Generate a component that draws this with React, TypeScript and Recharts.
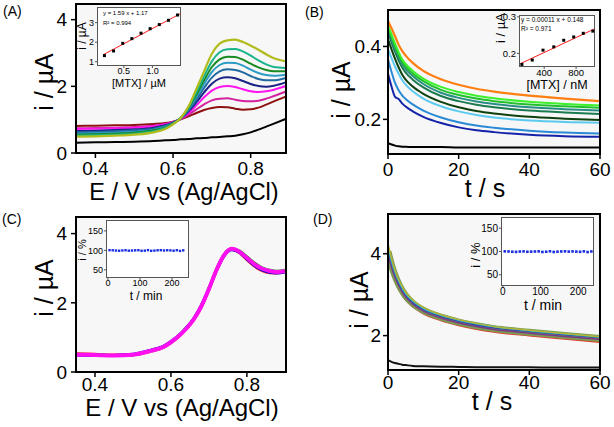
import React from 'react';
import { LineChart, Line, XAxis, YAxis, ComposedChart, Scatter } from 'recharts';

const FONT = "'Liberation Sans', Arial, Helvetica, sans-serif";

// ---------- Panel A (DPV, concentration series) ----------
const xA = [0.35, 0.40, 0.45, 0.50, 0.55, 0.58, 0.60, 0.62, 0.64, 0.66, 0.68, 0.70, 0.72, 0.74, 0.76, 0.78, 0.80, 0.82, 0.84, 0.86, 0.89];
const aBlack = [0.31, 0.32, 0.33, 0.34, 0.36, 0.38, 0.39, 0.41, 0.42, 0.44, 0.45, 0.47, 0.48, 0.50, 0.52, 0.56, 0.62, 0.70, 0.79, 0.88, 1.02];
const aDarkRed = [0.81, 0.82, 0.83, 0.84, 0.87, 0.90, 0.94, 1.01, 1.10, 1.20, 1.29, 1.35, 1.38, 1.37, 1.33, 1.30, 1.31, 1.36, 1.45, 1.55, 1.69];
const aPink = [0.74, 0.75, 0.76, 0.78, 0.82, 0.87, 0.93, 1.02, 1.15, 1.31, 1.46, 1.58, 1.63, 1.64, 1.60, 1.56, 1.55, 1.57, 1.63, 1.71, 1.84];
const aMagenta = [0.72, 0.73, 0.74, 0.76, 0.80, 0.86, 0.92, 1.03, 1.20, 1.43, 1.67, 1.87, 1.98, 2.01, 1.98, 1.91, 1.85, 1.83, 1.85, 1.90, 2.01];
const aNavy = [0.66, 0.67, 0.69, 0.71, 0.76, 0.83, 0.91, 1.04, 1.25, 1.52, 1.82, 2.08, 2.23, 2.27, 2.24, 2.16, 2.07, 2.01, 1.99, 2.02, 2.12];
const aSteel = [0.62, 0.63, 0.65, 0.68, 0.73, 0.81, 0.90, 1.05, 1.29, 1.60, 1.95, 2.26, 2.45, 2.51, 2.49, 2.42, 2.31, 2.22, 2.18, 2.18, 2.25];
const aSky = [0.58, 0.59, 0.61, 0.64, 0.70, 0.79, 0.89, 1.05, 1.32, 1.68, 2.07, 2.43, 2.64, 2.71, 2.70, 2.62, 2.50, 2.40, 2.34, 2.32, 2.35];
const aGreen = [0.55, 0.56, 0.58, 0.61, 0.68, 0.77, 0.88, 1.05, 1.35, 1.75, 2.18, 2.58, 2.81, 2.89, 2.88, 2.80, 2.68, 2.57, 2.49, 2.45, 2.45];
const aTeal = [0.52, 0.53, 0.55, 0.58, 0.65, 0.75, 0.87, 1.05, 1.38, 1.82, 2.30, 2.75, 3.02, 3.11, 3.12, 3.05, 2.92, 2.78, 2.66, 2.58, 2.55];
const aYellow = [0.49, 0.50, 0.52, 0.55, 0.62, 0.72, 0.86, 1.05, 1.40, 1.92, 2.45, 2.98, 3.28, 3.38, 3.40, 3.33, 3.22, 3.10, 2.96, 2.84, 2.75];

const insetAx = [0.16, 0.32, 0.48, 0.64, 0.80, 0.96, 1.12, 1.28, 1.44];
const insetAy = [1.31, 1.55, 1.94, 2.18, 2.46, 2.69, 2.90, 3.12, 3.39];
const fitAx = [0.14, 1.49];
const fitAy = [1.36, 3.46];

// ---------- Panel B (chronoamperometry, concentration series) ----------
const tB = [0, 1, 2, 3, 4, 5, 7, 10, 15, 20, 25, 30, 40, 50, 60];
const bBlack = [0.135, 0.131, 0.128, 0.126, 0.125, 0.125, 0.124, 0.124, 0.124, 0.123, 0.123, 0.123, 0.123, 0.123, 0.123];
const bDarkBlue = [0.325, 0.290, 0.262, 0.256, 0.244, 0.235, 0.222, 0.207, 0.190, 0.178, 0.170, 0.165, 0.158, 0.154, 0.152];
const bBlue = [0.365, 0.330, 0.300, 0.280, 0.266, 0.256, 0.241, 0.224, 0.205, 0.192, 0.183, 0.177, 0.169, 0.164, 0.161];
const bCyan = [0.392, 0.368, 0.345, 0.325, 0.308, 0.295, 0.277, 0.257, 0.236, 0.222, 0.212, 0.205, 0.197, 0.193, 0.191];
const bDarkGreen = [0.420, 0.392, 0.366, 0.343, 0.323, 0.309, 0.290, 0.270, 0.248, 0.233, 0.223, 0.216, 0.207, 0.202, 0.198];
const bSeaGreen = [0.440, 0.411, 0.385, 0.362, 0.342, 0.328, 0.309, 0.288, 0.264, 0.250, 0.240, 0.233, 0.224, 0.219, 0.215];
const bGreen = [0.448, 0.420, 0.394, 0.372, 0.352, 0.338, 0.319, 0.297, 0.273, 0.259, 0.249, 0.242, 0.233, 0.228, 0.224];
const bTeal = [0.452, 0.426, 0.400, 0.378, 0.358, 0.345, 0.326, 0.305, 0.281, 0.267, 0.257, 0.250, 0.241, 0.236, 0.232];
const bLime = [0.458, 0.433, 0.408, 0.385, 0.365, 0.352, 0.333, 0.312, 0.289, 0.275, 0.265, 0.258, 0.248, 0.242, 0.238];
const bOrange = [0.470, 0.450, 0.428, 0.405, 0.388, 0.375, 0.355, 0.333, 0.310, 0.295, 0.284, 0.276, 0.265, 0.257, 0.250];

const insetBx = [120, 250, 385, 520, 645, 770, 890, 1010];
const insetBy = [0.170, 0.182, 0.209, 0.218, 0.236, 0.245, 0.255, 0.261];
const fitBx = [100, 1030];
const fitBy = [0.172, 0.267];

// ---------- Panel C (DPV stability, repeated scans) ----------
const xC = [0.35, 0.40, 0.45, 0.50, 0.55, 0.58, 0.60, 0.62, 0.64, 0.66, 0.68, 0.70, 0.72, 0.74, 0.76, 0.78, 0.80, 0.82, 0.84, 0.86, 0.88, 0.90];
const cRed = [0.53, 0.51, 0.49, 0.50, 0.61, 0.71, 0.85, 1.02, 1.24, 1.51, 1.89, 2.39, 2.94, 3.37, 3.55, 3.45, 3.25, 3.06, 2.93, 2.87, 2.86, 2.90];
const cGreen = [0.51, 0.50, 0.48, 0.50, 0.62, 0.72, 0.86, 1.03, 1.26, 1.53, 1.91, 2.41, 2.96, 3.39, 3.57, 3.50, 3.33, 3.15, 3.01, 2.94, 2.91, 2.94];
const cBlack = [0.50, 0.49, 0.48, 0.50, 0.63, 0.73, 0.87, 1.04, 1.26, 1.53, 1.91, 2.40, 2.95, 3.38, 3.55, 3.47, 3.29, 3.10, 2.97, 2.90, 2.88, 2.91];
const cBlue = [0.49, 0.48, 0.48, 0.51, 0.64, 0.74, 0.88, 1.05, 1.27, 1.54, 1.92, 2.41, 2.94, 3.36, 3.53, 3.46, 3.27, 3.08, 2.95, 2.88, 2.86, 2.89];
const cMagenta = [0.50, 0.49, 0.48, 0.50, 0.62, 0.72, 0.86, 1.03, 1.25, 1.52, 1.90, 2.40, 2.95, 3.38, 3.56, 3.48, 3.30, 3.12, 2.99, 2.92, 2.89, 2.92];

const stabT = [5, 15, 25, 35, 45, 55, 65, 75, 85, 95, 105, 115, 125, 135, 145, 155, 165, 175, 185, 195, 205, 215, 225, 235];
const stabC = [100.5, 100.2, 99.6, 99.0, 99.8, 100.3, 99.2, 99.6, 100.1, 100.4, 98.9, 99.3, 100.6, 98.8, 99.4, 100.2, 100.5, 99.7, 100.3, 99.9, 99.1, 100.4, 98.6, 100.0];

// ---------- Panel D (chronoamperometry stability) ----------
const tD = [0, 1, 2, 3, 4, 5, 7, 10, 15, 20, 25, 30, 40, 50, 60];
const dBlack = [1.40, 1.36, 1.33, 1.31, 1.29, 1.28, 1.26, 1.25, 1.24, 1.235, 1.23, 1.23, 1.225, 1.22, 1.22];
const dRed = [3.85, 3.58, 3.35, 3.16, 3.01, 2.89, 2.72, 2.55, 2.38, 2.26, 2.17, 2.10, 2.01, 1.93, 1.85];
const dOlive = [4.05, 3.72, 3.46, 3.26, 3.10, 2.97, 2.79, 2.62, 2.45, 2.33, 2.24, 2.17, 2.08, 2.00, 1.93];
const dPurple = [3.98, 3.67, 3.42, 3.23, 3.07, 2.94, 2.77, 2.60, 2.43, 2.31, 2.22, 2.15, 2.06, 1.98, 1.91];
const dBlue = [4.10, 3.77, 3.50, 3.29, 3.13, 2.99, 2.81, 2.64, 2.47, 2.35, 2.26, 2.19, 2.10, 2.02, 1.95];
const dCyan = [4.18, 3.83, 3.55, 3.34, 3.17, 3.03, 2.85, 2.67, 2.50, 2.38, 2.29, 2.22, 2.12, 2.04, 1.97];
const dYellow = [4.25, 3.88, 3.59, 3.37, 3.20, 3.06, 2.87, 2.69, 2.51, 2.39, 2.30, 2.22, 2.13, 2.05, 1.97];

const stabD = [100.3, 100.1, 99.5, 99.2, 99.9, 100.2, 99.4, 99.7, 100.0, 100.3, 99.0, 99.5, 100.5, 99.0, 99.6, 100.1, 100.4, 99.8, 100.2, 99.8, 99.3, 100.3, 98.8, 100.1];

// ---------- helpers ----------
type LineSpec = { key: string; color: string; width: number };

function buildRows(xs: number[], cols: Record<string, number[]>) {
  return xs.map((x, i) => {
    const r: any = { x };
    Object.keys(cols).forEach((k) => {
      r[k] = cols[k][i];
    });
    return r;
  });
}
function pairs(xs: number[], ys: number[]) {
  return xs.map((x, i) => ({ x, y: ys[i] }));
}

const rowsA = buildRows(xA, { aBlack, aDarkRed, aPink, aMagenta, aNavy, aSteel, aSky, aGreen, aTeal, aYellow });
const linesA: LineSpec[] = [
  { key: 'aBlack', color: '#000000', width: 2 },
  { key: 'aDarkRed', color: '#8e1111', width: 2 },
  { key: 'aPink', color: '#d3239f', width: 2 },
  { key: 'aMagenta', color: '#ff14f0', width: 2 },
  { key: 'aNavy', color: '#1b2486', width: 2 },
  { key: 'aSteel', color: '#206aa2', width: 2 },
  { key: 'aSky', color: '#2c9cc4', width: 2 },
  { key: 'aGreen', color: '#178a22', width: 2 },
  { key: 'aTeal', color: '#19b48a', width: 2 },
  { key: 'aYellow', color: '#b2bc1c', width: 2.2 },
];

const rowsB = buildRows(tB, { bBlack, bDarkBlue, bBlue, bCyan, bDarkGreen, bSeaGreen, bGreen, bTeal, bLime, bOrange });
const linesB: LineSpec[] = [
  { key: 'bBlack', color: '#000000', width: 2 },
  { key: 'bDarkBlue', color: '#1423a8', width: 2 },
  { key: 'bBlue', color: '#2a8ad6', width: 2 },
  { key: 'bCyan', color: '#5ccaf0', width: 2 },
  { key: 'bDarkGreen', color: '#0e400e', width: 2 },
  { key: 'bSeaGreen', color: '#1c7a50', width: 2 },
  { key: 'bGreen', color: '#2a8c84', width: 2 },
  { key: 'bTeal', color: '#1fc02a', width: 2 },
  { key: 'bLime', color: '#3cf02c', width: 2 },
  { key: 'bOrange', color: '#ff7e12', width: 2.2 },
];

const rowsC = buildRows(xC, { cRed, cGreen, cBlack, cBlue, cMagenta });
const linesC: LineSpec[] = [
  { key: 'cRed', color: '#ff2020', width: 3 },
  { key: 'cGreen', color: '#20b020', width: 3 },
  { key: 'cBlack', color: '#000000', width: 3 },
  { key: 'cBlue', color: '#1010e0', width: 3 },
  { key: 'cMagenta', color: '#ff10f0', width: 4 },
];

const rowsD = buildRows(tD, { dBlack, dRed, dOlive, dPurple, dBlue, dCyan, dYellow });
const linesD: LineSpec[] = [
  { key: 'dBlack', color: '#111111', width: 2 },
  { key: 'dRed', color: '#e8322a', width: 2.5 },
  { key: 'dOlive', color: '#7c9a52', width: 7 },
  { key: 'dPurple', color: '#7b3a86', width: 1.5 },
  { key: 'dBlue', color: '#3342b0', width: 1.5 },
  { key: 'dCyan', color: '#22bcd0', width: 1.8 },
  { key: 'dYellow', color: '#b8b232', width: 1.5 },
];

const tickStyle = { fontSize: 19, fill: '#000', fontFamily: FONT };

function MainPanel(p: any) {
  const { left, top, w, h, x0, y0, x1, y1, data, lines, xDomain, yDomain, xTicks, yTicks, xTickMargin, yTickMargin, xFmt, yFmt } = p;
  return (
    <div style={{ position: 'absolute', left, top, width: w, height: h }}>
      <div style={{ position: 'absolute', left: x0, top: y0, width: x1 - x0, height: y1 - y0, background: '#f7f7f7' }} />
      <div style={{ position: 'absolute', left: 0, top: 0 }}>
        <LineChart width={w} height={h} data={data} margin={{ top: y0, right: w - x1, bottom: 0, left: 0 }}>
          <XAxis
            type="number"
            dataKey="x"
            domain={xDomain}
            ticks={xTicks}
            allowDataOverflow
            interval={0}
            height={h - y1}
            tickSize={5}
            tickMargin={xTickMargin}
            tickFormatter={xFmt}
            axisLine={false}
            tickLine={{ stroke: '#000', strokeWidth: 1.5 }}
            tick={tickStyle}
          />
          <YAxis
            type="number"
            domain={yDomain}
            ticks={yTicks}
            allowDataOverflow
            interval={0}
            width={x0}
            tickSize={5}
            tickMargin={yTickMargin}
            tickFormatter={yFmt}
            axisLine={false}
            tickLine={{ stroke: '#000', strokeWidth: 1.5 }}
            tick={tickStyle}
          />
          {lines.map((l: LineSpec) => (
            <Line key={l.key} dataKey={l.key} type="monotone" stroke={l.color} strokeWidth={l.width} dot={false} isAnimationActive={false} />
          ))}
        </LineChart>
      </div>
      <div
        style={{
          position: 'absolute',
          left: x0 - 1,
          top: y0 - 1,
          width: x1 - x0 + 2,
          height: y1 - y0 + 2,
          border: '2px solid #000',
          boxSizing: 'border-box',
        }}
      />
    </div>
  );
}

function Inset(p: any) {
  const { bx0, by0, bx1, by1, xDomain, yDomain, xTicks, yTicks, pts, fit, fs, ptColor, ptSize, xFmt, yFmt } = p;
  const yw = 26;
  const xh = 14;
  const rp = 4;
  const tp = 6;
  const shape = (s: any) => (
    <rect x={s.cx - ptSize / 2} y={s.cy - ptSize / 2} width={ptSize} height={ptSize} fill={ptColor} />
  );
  const tk = { fontSize: fs, fill: '#000', fontFamily: FONT };
  return (
    <>
      <div
        style={{
          position: 'absolute',
          left: bx0,
          top: by0,
          width: bx1 - bx0,
          height: by1 - by0,
          background: '#fff',
          border: '1px solid #555',
          boxSizing: 'border-box',
        }}
      />
      <div style={{ position: 'absolute', left: bx0 - yw, top: by0 - tp }}>
        <ComposedChart width={bx1 - bx0 + yw + rp} height={by1 - by0 + xh + tp} margin={{ top: tp, right: rp, left: 0, bottom: 0 }}>
          <XAxis
            type="number"
            dataKey="x"
            domain={xDomain}
            ticks={xTicks}
            allowDataOverflow
            interval={0}
            height={xh}
            tickSize={2}
            tickMargin={0}
            tickFormatter={xFmt}
            axisLine={false}
            tickLine={{ stroke: '#555' }}
            tick={tk}
          />
          <YAxis
            type="number"
            dataKey="y"
            domain={yDomain}
            ticks={yTicks}
            allowDataOverflow
            interval={0}
            width={yw}
            tickSize={2}
            tickMargin={1}
            tickFormatter={yFmt}
            axisLine={false}
            tickLine={{ stroke: '#555' }}
            tick={tk}
          />
          {fit ? (
            <Line data={fit} dataKey="y" type="linear" stroke="#ff1a1a" strokeWidth={1} dot={false} isAnimationActive={false} />
          ) : null}
          <Scatter data={pts} dataKey="y" fill={ptColor} shape={shape} isAnimationActive={false} />
        </ComposedChart>
      </div>
    </>
  );
}

function RotText({ x, y, size, children }: any) {
  return (
    <text x={x} y={y} fontSize={size} textAnchor="middle" fontFamily={FONT} fill="#000" transform={`rotate(-90 ${x} ${y})`}>
      {children}
    </text>
  );
}

export default function App() {
  const f1 = (v: number) => v.toFixed(1);
  const f0 = (v: number) => String(v);
  return (
    <div style={{ position: 'absolute', left: 0, top: 0, width: 614, height: 427, background: '#fff', overflow: 'hidden', fontFamily: FONT }}>
      <MainPanel
        left={0} top={0} w={307} h={213} x0={76} y0={4} x1={286} y1={153}
        data={rowsA} lines={linesA}
        xDomain={[0.35, 0.891]} yDomain={[0, 4.47]}
        xTicks={[0.4, 0.6, 0.8]} yTicks={[0, 2, 4]}
        xTickMargin={4} yTickMargin={4} xFmt={f1} yFmt={f0}
      />
      <MainPanel
        left={307} top={0} w={307} h={213} x0={81} y0={10} x1={293} y1={154}
        data={rowsB} lines={linesB}
        xDomain={[0, 60]} yDomain={[0.105, 0.5]}
        xTicks={[0, 20, 40, 60]} yTicks={[0.2, 0.4]}
        xTickMargin={4} yTickMargin={2} xFmt={f0} yFmt={f1}
      />
      <MainPanel
        left={0} top={213} w={307} h={214} x0={76} y0={4} x1={286} y1={159}
        data={rowsC} lines={linesC}
        xDomain={[0.35, 0.903]} yDomain={[0, 4.48]}
        xTicks={[0.4, 0.6, 0.8]} yTicks={[0, 2, 4]}
        xTickMargin={1} yTickMargin={4} xFmt={f1} yFmt={f0}
      />
      <MainPanel
        left={307} top={213} w={307} h={214} x0={81} y0={1} x1={293} y1={157}
        data={rowsD} lines={linesD}
        xDomain={[0, 60]} yDomain={[1.16, 4.97]}
        xTicks={[0, 20, 40, 60]} yTicks={[2, 4]}
        xTickMargin={1} yTickMargin={2} xFmt={f0} yFmt={f0}
      />

      <Inset
        bx0={97} by0={7} bx1={181} by1={66}
        xDomain={[0.03, 1.5]} yDomain={[0.78, 3.8]}
        xTicks={[0.5, 1.0]} yTicks={[1, 2, 3]}
        pts={pairs(insetAx, insetAy)} fit={pairs(fitAx, fitAy)}
        fs={9} ptColor="#000" ptSize={3} xFmt={f1} yFmt={f0}
      />
      <Inset
        bx0={519} by0={15} bx1={595} by1={67}
        xDomain={[84, 1037]} yDomain={[0.163, 0.305]}
        xTicks={[400, 800]} yTicks={[0.2, 0.3]}
        pts={pairs(insetBx, insetBy)} fit={pairs(fitBx, fitBy)}
        fs={9.5} ptColor="#000" ptSize={3} xFmt={f0} yFmt={f1}
      />
      <Inset
        bx0={106} by0={220} bx1={189} by1={278}
        xDomain={[-6, 253]} yDomain={[29, 178]}
        xTicks={[0, 100, 200]} yTicks={[50, 100, 150]}
        pts={pairs(stabT, stabC)} fit={null}
        fs={9} ptColor="#1a2ee0" ptSize={2.4} xFmt={f0} yFmt={f0}
      />
      <Inset
        bx0={501} by0={217} bx1={594} by1={286}
        xDomain={[-5, 242]} yDomain={[26, 174]}
        xTicks={[0, 100, 200]} yTicks={[50, 100, 150]}
        pts={pairs(stabT, stabD)} fit={null}
        fs={10} ptColor="#1a2ee0" ptSize={2.6} xFmt={f0} yFmt={f0}
      />

      <svg width={614} height={427} style={{ position: 'absolute', left: 0, top: 0, pointerEvents: 'none' }}>
        {/* panel letters */}
        <text x={3} y={16} fontSize={14} fontFamily={FONT}>(A)</text>
        <text x={305} y={17} fontSize={14} fontFamily={FONT}>(B)</text>
        <text x={2} y={224} fontSize={14} fontFamily={FONT}>(C)</text>
        <text x={313} y={224} fontSize={14} fontFamily={FONT}>(D)</text>

        {/* main axis titles */}
        <text x={184} y={200} fontSize={23.5} textAnchor="middle" fontFamily={FONT}>E / V vs (Ag/AgCl)</text>
        <RotText x={53} y={82} size={25}>i / µA</RotText>
        <text x={485} y={197} fontSize={25} textAnchor="middle" fontFamily={FONT}>t / s</text>
        <RotText x={350} y={90} size={25}>i / µA</RotText>
        <text x={182} y={416} fontSize={24} textAnchor="middle" fontFamily={FONT}>E / V vs (Ag/AgCl)</text>
        <RotText x={53} y={288} size={25}>i / µA</RotText>
        <text x={492} y={410} fontSize={25} textAnchor="middle" fontFamily={FONT}>t / s</text>
        <RotText x={368} y={300} size={25}>i / µA</RotText>

        {/* inset A */}
        <text x={139} y={87} fontSize={11} textAnchor="middle" fontFamily={FONT}>[MTX] / µM</text>
        <RotText x={86} y={36} size={12}>i / µA</RotText>
        <text x={103} y={15} fontSize={6} fontFamily={FONT}>y = 1.59 x + 1.17</text>
        <text x={103} y={25} fontSize={6} fontFamily={FONT}>R² = 0.994</text>

        {/* inset B */}
        <text x={557} y={89} fontSize={12.5} textAnchor="middle" fontFamily={FONT}>[MTX] / nM</text>
        <RotText x={505} y={28} size={13}>i / µA</RotText>
        <text x={521} y={22} fontSize={6.5} fontFamily={FONT}>y = 0.00011 x + 0.148</text>
        <text x={521} y={31} fontSize={6.5} fontFamily={FONT}>R² = 0.971</text>

        {/* inset C */}
        <text x={146} y={300} fontSize={12} textAnchor="middle" fontFamily={FONT}>t / min</text>
        <RotText x={86} y={250} size={11}>i / %</RotText>

        {/* inset D */}
        <text x={543} y={310} fontSize={14} textAnchor="middle" fontFamily={FONT}>t / min</text>
        <RotText x={480} y={255} size={13}>i / %</RotText>
      </svg>
    </div>
  );
}
